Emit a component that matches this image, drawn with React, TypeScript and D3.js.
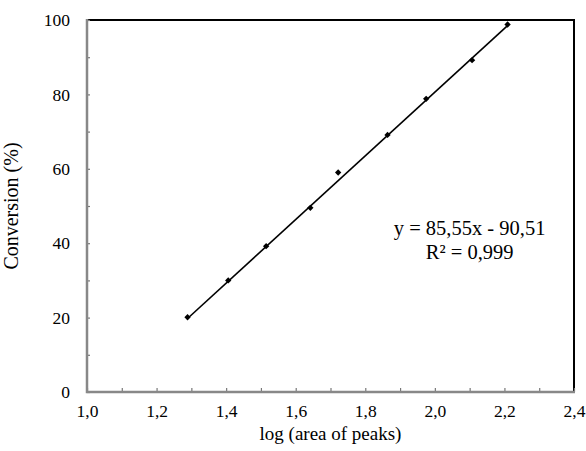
import React, { useEffect, useRef } from 'react';
import * as d3 from 'd3';

// calibration points
const logArea = [1.289, 1.406, 1.515, 1.642, 1.722, 1.864, 1.975, 2.107, 2.209];
const conversion = [20.1, 30.0, 39.2, 49.5, 59.0, 69.1, 78.8, 89.2, 98.8];

// trendline as printed on the chart
const slope = 85.55;
const intercept = -90.51;
const equationLines = ['y = 85,55x - 90,51', 'R² = 0,999'];
const equationAt = [2.1, 42.2];

const xTicks = [1.0, 1.1, 1.2, 1.3, 1.4, 1.5, 1.6, 1.7, 1.8, 1.9, 2.0, 2.1, 2.2, 2.3, 2.4];
const yTicks = [0, 10, 20, 30, 40, 50, 60, 70, 80, 90, 100];
const xLabel = 'log (area of peaks)';
const yLabel = 'Conversion (%)';

const width = 586;
const height = 451;
const margin = { top: 20, right: 12, bottom: 59, left: 87 };
const font = '"Liberation Serif", "Times New Roman", serif';

const commaLocale = d3.formatLocale({ decimal: ',', thousands: '.', grouping: [3], currency: ['', ''] });
const fmtX = commaLocale.format('.1f');

const App: React.FC = () => {
  const svgRef = useRef<SVGSVGElement>(null);

  useEffect(() => {
    if (!svgRef.current) return;
    const svg = d3.select(svgRef.current);
    svg.selectAll('*').remove();

    const x = d3.scaleLinear().domain([1.0, 2.4]).range([margin.left, width - margin.right]);
    const y = d3.scaleLinear().domain([0, 100]).range([height - margin.bottom, margin.top]);

    const [x0, x1] = x.range();
    const [yb, yt] = y.range();

    // frame: black top / right
    svg.append('path')
      .attr('d', `M${x0},${yt}H${x1}V${yb}`)
      .attr('fill', 'none')
      .attr('stroke', '#000')
      .attr('stroke-width', 2);

    // y axis
    const yAxis = d3.axisLeft(y)
      .tickValues(yTicks)
      .tickSizeInner(-3)
      .tickSizeOuter(0)
      .tickPadding(17)
      .tickFormat((d) => ((d as number) % 20 === 0 ? String(d) : ''));
    const gy = svg.append('g').attr('transform', `translate(${x0},0)`).call(yAxis);
    gy.select('.domain').remove();
    gy.selectAll('line').attr('stroke', '#777').attr('stroke-width', 1.2);
    gy.selectAll('text')
      .attr('fill', '#000')
      .style('font-family', font)
      .style('font-size', '17.5px');

    // x axis
    const xAxis = d3.axisBottom(x)
      .tickValues(xTicks)
      .tickSizeInner(-4)
      .tickSizeOuter(0)
      .tickPadding(13)
      .tickFormat((d) => (Math.round((d as number) * 10) % 2 === 0 ? fmtX(d as number) : ''));
    const gx = svg.append('g').attr('transform', `translate(0,${yb})`).call(xAxis);
    gx.select('.domain').remove();
    gx.selectAll('line').attr('stroke', '#777').attr('stroke-width', 1.2);
    gx.selectAll('text')
      .attr('fill', '#000')
      .style('font-family', font)
      .style('font-size', '17.5px');

    // gray axis lines
    svg.append('path')
      .attr('d', `M${x0},${yt - 1}V${yb}H${x1 + 1}`)
      .attr('fill', 'none')
      .attr('stroke', '#888')
      .attr('stroke-width', 2.5);

    // trendline
    const ext = d3.extent(logArea) as [number, number];
    const line = d3.line<number>().x((d) => x(d)).y((d) => y(slope * d + intercept));
    svg.append('path')
      .attr('d', line(ext))
      .attr('fill', 'none')
      .attr('stroke', '#000')
      .attr('stroke-width', 1.6);

    // markers: square turned 45 degrees
    const marker = d3.symbol(d3.symbolSquare, 20);
    svg.append('g')
      .selectAll('path')
      .data(logArea.map((v, i) => [v, conversion[i]]))
      .join('path')
      .attr('d', marker() as string)
      .attr('transform', (d) => `translate(${x(d[0])},${y(d[1])}) rotate(45)`)
      .attr('fill', '#000');

    // equation
    const eq = svg.append('text')
      .style('font-family', font)
      .style('font-size', '20.5px')
      .attr('text-anchor', 'middle')
      .attr('x', x(equationAt[0]))
      .attr('y', y(equationAt[1]));
    equationLines.forEach((t, i) => {
      eq.append('tspan')
        .attr('x', x(equationAt[0]))
        .attr('dy', i === 0 ? 0 : 24)
        .text(t);
    });

    // axis titles
    svg.append('text')
      .style('font-family', font)
      .style('font-size', '19px')
      .attr('text-anchor', 'middle')
      .attr('x', (x0 + x1) / 2)
      .attr('y', 440)
      .text(xLabel);

    svg.append('text')
      .style('font-family', font)
      .style('font-size', '20px')
      .attr('text-anchor', 'middle')
      .attr('transform', `translate(18,${(yt + yb) / 2}) rotate(-90)`)
      .text(yLabel);
  }, []);

  return (
    <div style={{ position: 'absolute', left: 0, top: 0 }}>
      <svg ref={svgRef} width={width} height={height} style={{ display: 'block', background: '#fff' }} />
    </div>
  );
};

export default App;
